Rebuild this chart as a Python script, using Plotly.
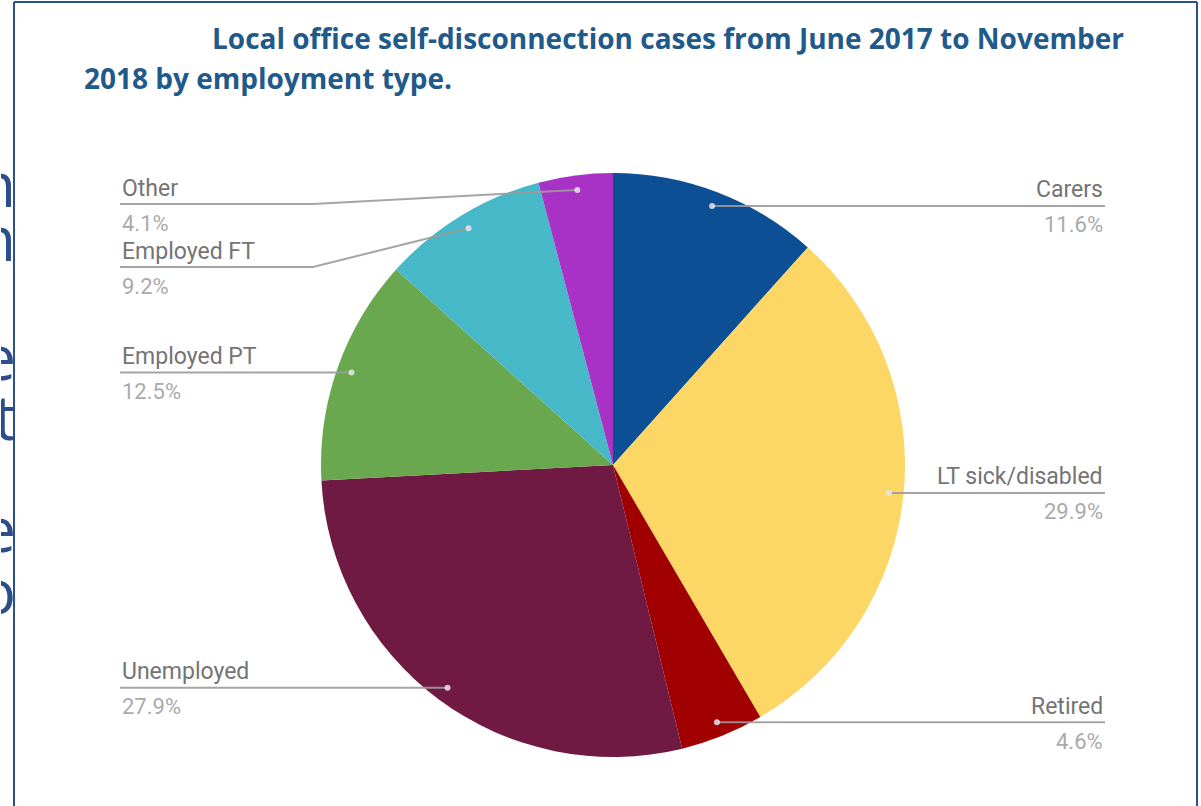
import math
import plotly.graph_objects as go

# ---- data ----
labels = ["Carers", "LT sick/disabled", "Retired", "Unemployed",
          "Employed PT", "Employed FT", "Other"]
values = [11.6, 29.9, 4.6, 27.9, 12.5, 9.2, 4.1]
colors = ["#0c4f94", "#fdd766", "#a10000", "#701942",
          "#6aa84f", "#47b8c7", "#a832c5"]
title_line1 = "Local office self-disconnection cases from June 2017 to November"
title_line2 = "2018 by employment type."
side_letters = ["n", "n", "e", "t", "e", "o"]

# ---- layout constants (pixels) ----
W, H = 1201, 806
CX, CY, R = 613, 465, 292
DOT_FR = 0.95
RIGHT_X, LEFT_X = 1105, 120
side = ["right", "right", "right", "left", "left", "left", "left"]
line_y = [None, None, None, None, None, 267, 204]
elbow_x = [None, None, None, None, None, 313, 313]
letter_y = [183, 237, 356, 416, 528, 590]

fig = go.Figure()
fig.add_trace(go.Pie(
    labels=labels, values=values, sort=False, direction="clockwise",
    rotation=0, textinfo="none", hoverinfo="label+percent",
    marker=dict(colors=colors, line=dict(width=0)),
    domain=dict(x=[(CX - R) / W, (CX + R) / W],
                y=[1 - (CY + R) / H, 1 - (CY - R) / H]),
    showlegend=False,
))
# invisible pixel-space axes used for annotations & leader lines
fig.add_trace(go.Scatter(x=[0, W], y=[0, H], mode="markers",
                         marker=dict(opacity=0), hoverinfo="skip",
                         showlegend=False))

shapes = []
annotations = []
total = sum(values)
cum = 0.0
for i, (lab, v) in enumerate(zip(labels, values)):
    theta = 2 * math.pi * (cum + v / 2) / total
    cum += v
    dx = CX + DOT_FR * R * math.sin(theta)
    dy = CY - DOT_FR * R * math.cos(theta)
    ly = line_y[i] if line_y[i] is not None else dy
    ex = elbow_x[i] if elbow_x[i] is not None else dx
    end_x = RIGHT_X if side[i] == "right" else LEFT_X
    shapes.append(dict(type="path", xref="x", yref="y", layer="above",
                       path=f"M{dx:.1f},{dy:.1f} L{ex:.1f},{ly:.1f} L{end_x},{ly:.1f}",
                       line=dict(color="rgba(155,155,155,0.9)", width=2)))
    shapes.append(dict(type="circle", xref="x", yref="y", layer="above",
                       x0=dx - 3, x1=dx + 3, y0=dy - 3, y1=dy + 3,
                       fillcolor="rgba(230,230,235,0.85)", line=dict(width=0)))
    anchor = "right" if side[i] == "right" else "left"
    annotations.append(dict(x=end_x, y=ly - 16, xref="x", yref="y", text=lab,
                            showarrow=False, xanchor=anchor, yanchor="middle",
                            font=dict(family="Roboto", size=23, color="#747474")))
    annotations.append(dict(x=end_x, y=ly + 19, xref="x", yref="y",
                            text=f"{v}%", showarrow=False, xanchor=anchor,
                            yanchor="middle",
                            font=dict(family="Roboto", size=22, color="#aaaaaa")))

# title
annotations.append(dict(x=210, y=38, xref="x", yref="y", text=f"<b>{title_line1}</b>",
                        showarrow=False, xanchor="left", yanchor="middle",
                        font=dict(family="Open Sans", size=28, color="#1f5a8b")))
annotations.append(dict(x=82, y=78, xref="x", yref="y", text=f"<b>{title_line2}</b>",
                        showarrow=False, xanchor="left", yanchor="middle",
                        font=dict(family="Open Sans", size=28, color="#1f5a8b")))
# clipped slide text on the far left (only right part visible)
for ch, yy in zip(side_letters, letter_y):
    annotations.append(dict(x=0, y=yy, xref="x", yref="y", text=ch,
                            showarrow=False, xanchor="left", yanchor="middle",
                            width=15, height=50, align="right", borderpad=0,
                            font=dict(family="Open Sans", size=62, color="#2c4f8b")))
# frame
frame_col = "#2b4f8f"
shapes.append(dict(type="line", xref="x", yref="y", x0=14, x1=14, y0=2, y1=H + 5,
                   line=dict(color=frame_col, width=2), layer="above"))
shapes.append(dict(type="line", xref="x", yref="y", x0=14, x1=1197, y0=2, y1=2,
                   line=dict(color=frame_col, width=2), layer="above"))
shapes.append(dict(type="line", xref="x", yref="y", x0=1197, x1=1197, y0=2, y1=H + 5,
                   line=dict(color=frame_col, width=2), layer="above"))

fig.update_layout(
    width=W, height=H, margin=dict(l=0, r=0, t=0, b=0),
    paper_bgcolor="white", plot_bgcolor="rgba(0,0,0,0)",
    xaxis=dict(range=[0, W], visible=False, fixedrange=True, domain=[0, 1]),
    yaxis=dict(range=[H, 0], visible=False, fixedrange=True, domain=[0, 1]),
    shapes=shapes, annotations=annotations, showlegend=False,
)
fig.write_html("out.html")
